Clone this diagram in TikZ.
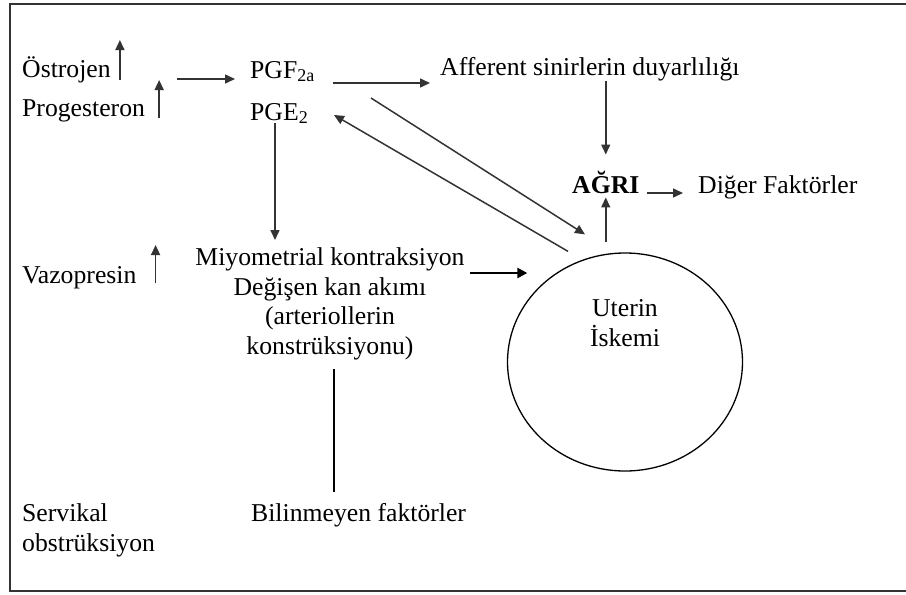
\documentclass[tikz,border=0pt]{standalone}
\usepackage{fontspec}
\setmainfont{Liberation Serif}
\usetikzlibrary{shapes.geometric, arrows.meta, positioning, calc}

\begin{document}
\begin{tikzpicture}[
    x=1pt, y=-1pt,
    txt/.style={inner sep=0pt, font=\fontsize{25.7}{29.7}\selectfont},
    arrow/.style={-{Triangle[length=10pt,width=9pt]}, line width=1.5pt, draw=black!80},
    thickarrow/.style={-{Triangle[length=10pt,width=10pt]}, line width=2.4pt},
    frame/.style={line width=2.2pt, draw=black!80}
]
\useasboundingbox (0,0) rectangle (906,595);
\draw[frame] (915,4) -| (10,591) -- (915,591);

\node[txt, anchor=base west] (ostrojen) at (22,77) {Östrojen};
\node[txt, anchor=base west] (progesteron) at (22,116) {Progesteron};
\node[txt, anchor=base west] (pgf) at (250,78) {PGF\textsubscript{2a}};
\node[txt, anchor=base west] (pge) at (250,120) {PGE\textsubscript{2}};
\node[txt, anchor=base west] (afferent) at (440,75) {Afferent sinirlerin duyarlılığı};
\node[txt, anchor=base west, font=\fontsize{25.7}{29.7}\selectfont\bfseries] (agri) at (572,193) {AĞRI};
\node[txt, anchor=base west] (diger) at (698,193) {Diğer Faktörler};
\node[txt, anchor=base west] (vazopresin) at (22,283) {Vazopresin};
\node[txt, anchor=north, align=center] (miyo) at (330,247.5)
    {Miyometrial kontraksiyon\\Değişen kan akımı\\(arteriollerin\\konstrüksiyonu)};
\node[ellipse, draw, line width=1.3pt, minimum width=235pt, minimum height=218pt, inner sep=0pt] (iskemi) at (625,362) {};
\node[txt, anchor=north, align=center] (uterin) at (625,299.5) {Uterin\\İskemi};
\node[txt, anchor=north west, align=left] (servikal) at (22,503.5) {Servikal\\obstrüksiyon};
\node[txt, anchor=base west] (bilinmeyen) at (251,521) {Bilinmeyen faktörler};

% artis oklari
\draw[arrow] ([xshift=9pt,yshift=-3pt]ostrojen.base east) -- ++(0,-40);
\draw[arrow] ([xshift=14pt,yshift=-2pt]progesteron.base east) -- ++(0,-38);
\draw[arrow] ([xshift=19pt]vazopresin.base east) -- ++(0,-38);

\draw[arrow, shorten >=15pt] ($(progesteron.base east)+(32,-37)$) -- ($(pgf.base west)+(0,1)$);
\draw[arrow] ($(pgf.base west)+(83,5)$) -- ($(afferent.base west)+(-10,8)$);
\draw[arrow, shorten >=16pt] (agri.north |- afferent.south) -- (agri.north);
\draw[arrow, shorten <=7pt, shorten >=15pt] (agri.base east) -- (diger.base west);
\draw[arrow, shorten >=4pt] ($(agri.south |- iskemi.north)+(0,-10)$) -- (agri.south);
\draw[arrow] ($(pgf.base west)+(121,20)$) -- ($(iskemi.north)+(-40,-18)$);
\draw[arrow] ($(iskemi.north)+(-57,-1)$) -- ($(pge.base west)+(84,-5)$);
\draw[arrow] ($(pge.base west)+(25,3)$) -- ($(miyo.north)+(-55,-7.5)$);
\draw[thickarrow] ($(miyo.north east)+(5,25.5)$) -- ($(iskemi.west |- miyo.north east)+(20.5,25.5)$);
\draw[line width=1.6pt] ($(miyo.south)+(4,9)$) -- ($(miyo.south |- bilinmeyen.north)+(4,-11)$);
\end{tikzpicture}
\end{document}
